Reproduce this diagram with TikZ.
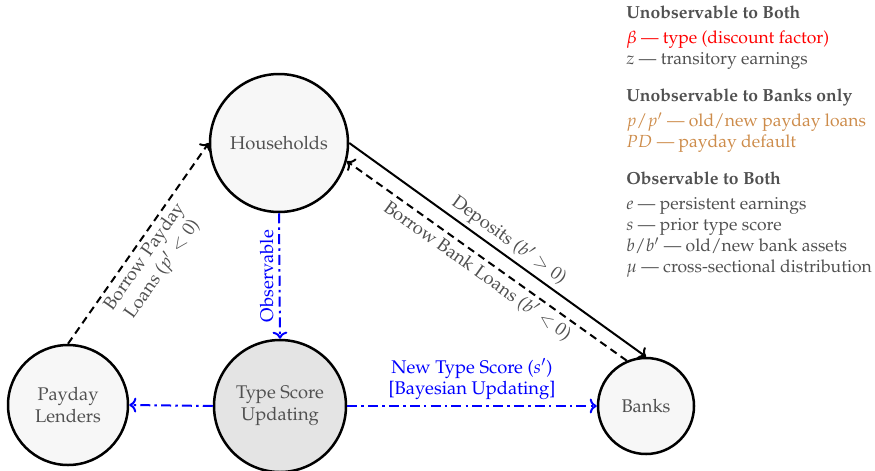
\documentclass[tikz,border=0pt]{standalone}
\usepackage[T1]{fontenc}
\usepackage{mathpazo}
\usepackage{amsmath}
\usepackage{xcolor}
\usepackage{tikz}
\usetikzlibrary{positioning,calc,arrows.meta}
\definecolor{NodeGray}{RGB}{247,247,247}
\definecolor{ScoreGray}{RGB}{228,228,228}
\definecolor{TextGray}{RGB}{80,80,80}
\definecolor{PaydayOrange}{RGB}{205,140,75}
\tikzset{
    agent/.style={circle, draw=black, fill=NodeGray, line width=1.5pt, inner sep=0pt, align=center, text=TextGray, font=\fontsize{11}{13}\selectfont},
    flow/.style={line width=1.2pt, ->},
    loanflow/.style={flow, dash pattern=on 4.5pt off 3pt},
    infoflow/.style={flow, draw=blue, dash pattern=on 6pt off 2.5pt on 1.5pt off 2.5pt},
    flowlabel/.style={text=TextGray, font=\fontsize{11}{13}\selectfont, align=center, inner sep=2pt},
    infolabel/.style={text=blue, font=\fontsize{11}{13}\selectfont, align=center, inner sep=2pt}
}
\begin{document}
\begin{tikzpicture}[x=0.6pt, y=-0.6pt]
    \useasboundingbox (0,0) rectangle (875,470);
    \node[agent, minimum size=82.8pt] (hh) at (279,143) {Households};
    \node[agent, minimum size=79.2pt, fill=ScoreGray] (ts) at (280,406) {Type Score\\Updating};
    \node[agent, minimum size=72pt] (pl) at (68,405) {Payday\\Lenders};
    \node[agent, minimum size=57.6pt] (bk) at (646,406) {Banks};

    % credit and deposit flows
    \draw[loanflow] (pl.north) -- (hh.west)
        node[flowlabel, sloped, below, pos=0.47] {Borrow Payday\\Loans ($p'<0$)};
    \draw[flow] (hh.east) -- (bk.north)
        node[flowlabel, sloped, above, pos=0.51] {Deposits ($b'>0$)};
    \draw[loanflow] (bk.113) -- (hh.-15)
        node[flowlabel, sloped, below, pos=0.505] {Borrow Bank Loans ($b'<0$)};

    % information flows
    \draw[infoflow] (hh.south) -- (ts.north)
        node[infolabel, midway, rotate=90, anchor=south, inner sep=3pt] {Observable};
    \draw[infoflow] (ts.west) -- (pl.east);
    \draw[infoflow] (ts.east) -- (bk.west)
        node[infolabel, midway, above=1pt] {New Type Score ($s'$)\\{}[Bayesian Updating]};

    % legend
    \node[anchor=north west, align=left, inner sep=0pt, text=TextGray, font=\fontsize{10.5}{12.6}\selectfont] (key) at (626,6) {%
        {\bfseries Unobservable to Both}\\[2.4pt]
        \textcolor{red}{$\beta$ --- type (discount factor)}\\
        $z$ --- transitory earnings\\[9.6pt]
        {\bfseries Unobservable to Banks only}\\[2.4pt]
        \textcolor{PaydayOrange}{$p/p'$ --- old/new payday loans}\\
        \textcolor{PaydayOrange}{$PD$ --- payday default}\\[9.6pt]
        {\bfseries Observable to Both}\\[2.4pt]
        $e$ --- persistent earnings\\
        $s$ --- prior type score\\
        $b/b'$ --- old/new bank assets\\
        $\mu$ --- cross-sectional distribution};
\end{tikzpicture}
\end{document}
